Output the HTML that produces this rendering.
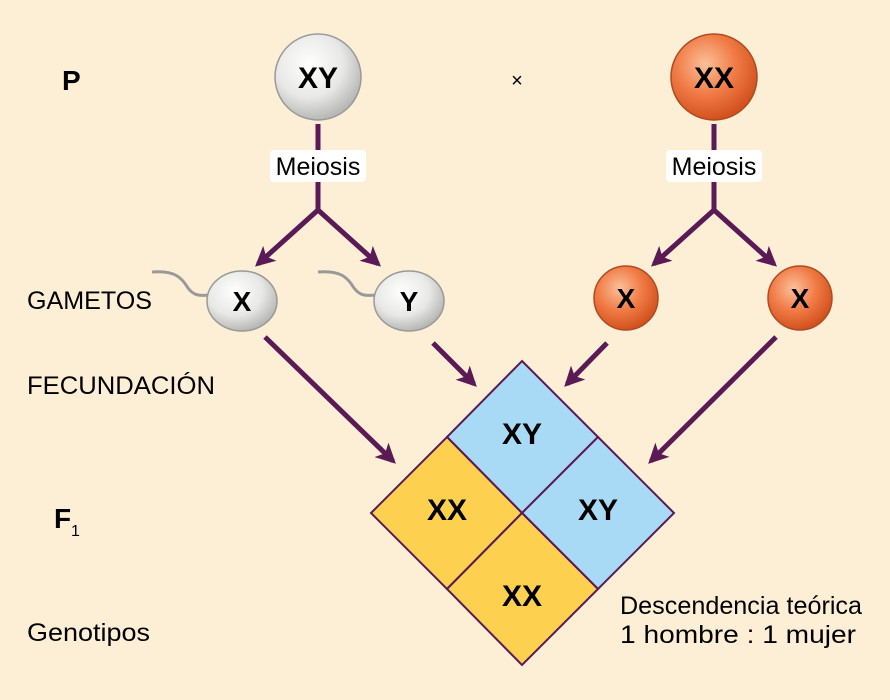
<!DOCTYPE html>
<html><head><meta charset="utf-8"><style>
html,body{margin:0;padding:0;background:#fdefd6;}
svg{display:block;}
text{font-family:"Liberation Sans",sans-serif;}
</style></head><body>
<svg width="890" height="700" viewBox="0 0 890 700" xmlns="http://www.w3.org/2000/svg">
<defs>
<radialGradient id="gw" cx="40%" cy="35%" r="65%"><stop offset="0" stop-color="#ffffff"/><stop offset="0.6" stop-color="#e8e8e6"/><stop offset="1" stop-color="#b8b8b6"/></radialGradient>
<radialGradient id="go" cx="40%" cy="35%" r="65%"><stop offset="0" stop-color="#fbc09a"/><stop offset="0.55" stop-color="#f07a45"/><stop offset="1" stop-color="#d2521f"/></radialGradient>
<marker id="ah" viewBox="0 0 10 10" refX="8" refY="5" markerWidth="4" markerHeight="4" orient="auto"><path d="M0,0 L10,5 L0,10 L2.5,5 z" fill="#5a1a55"/></marker>
</defs>
<rect width="890" height="700" fill="#fdefd6"/>
<g fill="none" stroke="#5a1a55" stroke-width="5">
<line x1="318" y1="124" x2="318" y2="212"/>
<line x1="714" y1="124" x2="714" y2="212"/>
<line x1="318" y1="210" x2="258" y2="264" marker-end="url(#ah)"/>
<line x1="318" y1="210" x2="378" y2="264" marker-end="url(#ah)"/>
<line x1="714" y1="210" x2="654" y2="264" marker-end="url(#ah)"/>
<line x1="714" y1="210" x2="774" y2="264" marker-end="url(#ah)"/>
<line x1="265" y1="337" x2="393" y2="461" marker-end="url(#ah)"/>
<line x1="433" y1="343" x2="474" y2="384" marker-end="url(#ah)"/>
<line x1="607" y1="343" x2="567" y2="384" marker-end="url(#ah)"/>
<line x1="776" y1="337" x2="651" y2="461" marker-end="url(#ah)"/>
</g>
<rect x="270" y="150" width="96" height="32" fill="#fff" rx="4"/>
<rect x="666" y="150" width="96" height="32" fill="#fff" rx="4"/>
<text x="318" y="175" font-size="25" text-anchor="middle">Meiosis</text>
<text x="714" y="175" font-size="25" text-anchor="middle">Meiosis</text>
<circle cx="318" cy="77" r="43" fill="url(#gw)" stroke="#999" stroke-width="1.5"/>
<circle cx="714" cy="77" r="43" fill="url(#go)" stroke="#b04a20" stroke-width="1.5"/>
<text x="318" y="88" font-size="30" font-weight="bold" text-anchor="middle">XY</text>
<text x="714" y="88" font-size="30" font-weight="bold" text-anchor="middle">XX</text>
<text x="517" y="87" font-size="20" text-anchor="middle">×</text>
<path d="M152,272 C175,270 182,278 188,288 C194,296 200,296 210,295" fill="none" stroke="#999" stroke-width="3"/>
<path d="M318,272 C341,270 348,278 354,288 C360,296 366,296 376,295" fill="none" stroke="#999" stroke-width="3"/>
<ellipse cx="242" cy="301" rx="35" ry="30" fill="url(#gw)" stroke="#999" stroke-width="1.5"/>
<ellipse cx="409" cy="301" rx="35" ry="30" fill="url(#gw)" stroke="#999" stroke-width="1.5"/>
<circle cx="626" cy="298" r="32" fill="url(#go)" stroke="#b04a20" stroke-width="1.5"/>
<circle cx="800" cy="298" r="32" fill="url(#go)" stroke="#b04a20" stroke-width="1.5"/>
<g font-size="28" font-weight="bold" text-anchor="middle">
<text x="242" y="311">X</text><text x="409" y="311">Y</text>
<text x="626" y="308">X</text><text x="800" y="308">X</text>
</g>
<g stroke="#5a1a55" stroke-width="2">
<polygon points="522,361 598,437 522,513 447,437" fill="#a8daf6"/>
<polygon points="598,437 674,513 598,589 522,513" fill="#a8daf6"/>
<polygon points="447,437 522,513 447,589 371,513" fill="#fdd050"/>
<polygon points="522,513 598,589 522,665 447,589" fill="#fdd050"/>
</g>
<g font-size="30" font-weight="bold" text-anchor="middle">
<text x="522" y="444">XY</text><text x="598" y="520">XY</text>
<text x="447" y="520">XX</text><text x="522" y="606">XX</text>
</g>
<text x="62" y="90" font-size="28" font-weight="bold">P</text>
<text x="27" y="309" font-size="25" textLength="125" lengthAdjust="spacingAndGlyphs">GAMETOS</text>
<text x="27" y="394" font-size="25" textLength="188" lengthAdjust="spacingAndGlyphs">FECUNDACIÓN</text>
<text x="54" y="528" font-size="28" font-weight="bold">F</text>
<text x="71" y="536" font-size="16">1</text>
<text x="27" y="641" font-size="25" textLength="123" lengthAdjust="spacingAndGlyphs">Genotipos</text>
<text x="620" y="614" font-size="25" textLength="242" lengthAdjust="spacingAndGlyphs">Descendencia teórica</text>
<text x="620" y="643" font-size="25" textLength="236" lengthAdjust="spacingAndGlyphs">1 hombre : 1 mujer</text>
</svg>
</body></html>
